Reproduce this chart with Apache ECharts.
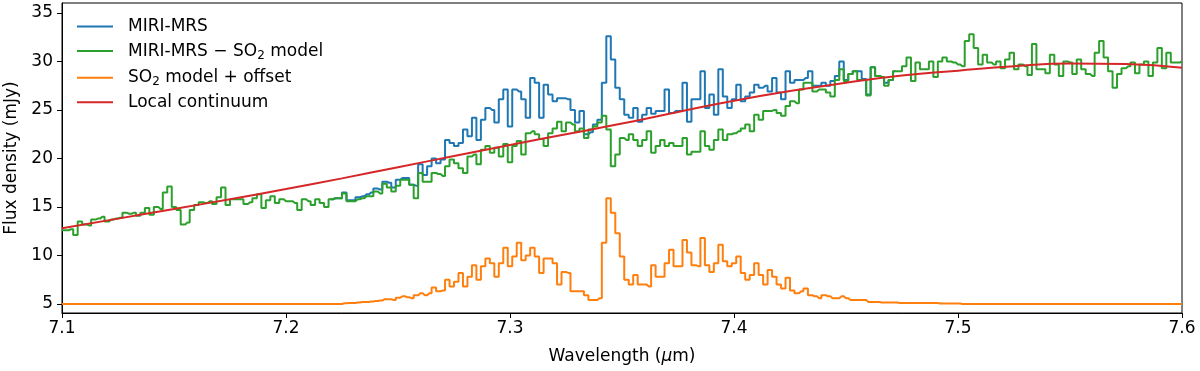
<!DOCTYPE html>
<html>
<head>
<meta charset="utf-8" />
<title>MIRI-MRS SO2 band</title>
<script src="https://cdn.jsdelivr.net/npm/echarts@6.0.0/dist/echarts.min.js"></script>
<style>
  html, body { margin: 0; padding: 0; background: #fff; }
  #main { width: 1200px; height: 371px; }
</style>
</head>
<body>
<div id="main"></div>
<script>
// spectra are sampled on a regular grid starting at 7.1 um
var waveStart = 7.1;
var waveStep = 0.002;

// MIRI-MRS - SO2 model (mJy)
var green = [
  12.6, 12.6, 12.7, 12.1, 13.5, 13.2, 13.1, 13.7, 13.8, 14.0,
  13.5, 13.7, 13.8, 13.9, 14.4, 14.3, 14.4, 14.1, 14.4, 14.9,
  14.2, 15.0, 14.8, 16.5, 17.1, 15.0, 14.7, 13.2, 13.4, 14.7,
  15.2, 15.5, 15.4, 15.6, 15.3, 16.0, 17.0, 15.2, 15.8,
  15.8, 15.8, 15.3, 15.5, 15.9, 16.3, 14.9, 15.7, 16.1, 15.4,
  15.8, 15.6, 15.6, 15.4, 14.7, 15.8, 15.6, 15.2, 15.8, 15.4,
  15.0, 15.8, 15.9, 15.9, 16.4, 15.6, 15.6, 15.8, 15.9, 16.1,
  16.1, 16.6, 16.4, 17.4, 17.0, 16.6, 17.2, 17.8,
  17.8, 17.3, 15.9, 18.5, 17.6, 17.6, 18.5, 18.4, 18.2, 19.2,
  19.9, 19.5, 19.0, 18.5, 20.2, 20.4, 19.4, 20.9, 21.3, 20.6,
  21.1, 20.2, 21.5, 19.6, 21.3, 21.8, 20.4, 22.6, 22.8, 22.5,
  22.0, 21.3, 22.6, 23.1, 23.8, 22.8, 23.7, 23.5,
  22.8, 23.1, 22.1, 23.0, 23.3, 23.7, 24.4, 23.0, 19.2, 20.4,
  22.1, 21.9, 22.5, 21.9, 21.3, 21.9, 22.8, 20.6, 21.3, 21.9,
  21.3, 21.6, 21.3, 21.3, 22.1, 20.4, 20.7, 20.7, 22.8, 21.3,
  20.9, 21.9, 23.0, 21.9, 22.5, 22.6, 22.8, 23.1,
  23.5, 22.8, 24.5, 24.0, 24.9, 24.9, 25.0, 24.7, 24.4, 25.4,
  25.9, 25.7, 27.1, 27.8, 27.8, 26.9, 27.1, 27.1, 26.8, 26.4,
  28.1, 29.2, 28.0, 28.7, 29.0, 28.1, 28.1, 26.5, 29.4, 28.5,
  28.4, 27.5, 28.1, 29.0, 29.0, 29.5, 30.4, 28.0,
  29.9, 29.2, 29.2, 30.0, 28.4, 30.0, 30.4, 30.0, 29.9, 29.7,
  29.5, 32.1, 32.8, 31.4, 29.7, 30.7, 29.9, 29.7, 30.0, 29.3,
  30.2, 30.9, 29.2, 29.7,
  29.5, 28.6, 31.8, 29.2, 29.2, 28.8, 30.7, 29.7, 28.5, 30.0,
  29.9, 28.7, 30.2, 29.2, 28.7, 28.5, 30.9, 32.1, 30.4, 29.0,
  27.3, 28.7, 29.3, 29.5, 29.9, 28.8, 29.7, 30.0, 28.5, 29.9,
  31.4, 29.3, 30.9, 29.9, 29.9, 30.0
];

// MIRI-MRS (mJy), only where it leaves the corrected spectrum
var blueStart = 60;
var blue = [
  15.8, 15.9, 15.9, 16.5, 15.7, 15.7, 16.0, 16.1, 16.3, 16.5,
  16.9, 16.8, 17.6, 17.5, 17.0, 17.8, 18.0,
  18.0, 17.3, 17.2, 19.4, 18.3, 19.2, 20.0, 19.5, 19.9, 21.9,
  21.6, 21.3, 21.6, 23.0, 22.3, 24.2, 21.9, 24.0, 25.2, 25.0,
  23.7, 26.1, 27.1, 23.3, 27.1, 26.9, 26.1, 24.2, 28.3, 27.8,
  24.2, 27.6, 26.6, 25.9, 26.2, 26.2, 26.1, 25.0,
  23.7, 24.9, 22.5, 22.7, 23.5, 24.0, 27.8, 32.6, 30.2, 27.3,
  26.1, 24.5, 24.2, 25.2, 23.8, 24.5, 25.2, 24.6, 24.9, 24.9,
  27.1, 24.7, 24.9, 24.9, 27.8, 23.8, 26.1, 26.1, 29.0, 25.2,
  26.6, 24.5, 29.2, 26.4, 25.2, 26.1, 27.6, 25.9,
  26.4, 26.8, 27.6, 27.3, 27.5, 26.9, 28.3, 26.8, 26.1, 29.0,
  27.8, 28.1, 28.1, 28.3, 29.0, 27.5, 27.5, 27.8, 27.5, 28.0,
  28.5, 30.0, 28.1, 28.7, 29.0, 29.0, 28.2, 26.6, 29.4, 28.5,
  28.4, 27.8, 28.1, 29.0
];

// SO2 model + offset (mJy)
var orange = [
  5.0, 5.0, 5.0, 5.0, 5.0, 5.0, 5.0, 5.0, 5.0, 5.0,
  5.0, 5.0, 5.0, 5.0, 5.0, 5.0, 5.0, 5.0, 5.0, 5.0,
  5.0, 5.0, 5.0, 5.0, 5.0, 5.0, 5.0, 5.0, 5.0, 5.0,
  5.0, 5.0, 5.0, 5.0, 5.0, 5.0, 5.0, 5.0, 5.0, 5.0,
  5.0, 5.0, 5.0, 5.0, 5.0, 5.0, 5.0, 5.0, 5.0, 5.0,
  5.0, 5.0, 5.0, 5.0, 5.0, 5.0, 5.0, 5.0, 5.0, 5.0,
  5.0, 5.0, 5.0,
  5.07, 5.1, 5.1, 5.15, 5.2, 5.2, 5.25, 5.3, 5.35, 5.5, 5.5, 5.4, 5.65, 5.8,
  5.7, 5.6, 5.9, 6.1, 5.9, 6.1, 6.7, 6.3, 6.4, 7.5,
  6.8, 7.3, 8.2, 6.8, 7.8, 9.0, 7.5, 8.9, 9.7, 9.2,
  7.8, 9.2, 10.8, 8.9, 9.9, 11.3, 9.5, 10.0, 10.8, 9.9,
  8.2, 9.7, 9.7, 9.2, 7.0, 8.3, 8.2, 6.3,
  6.3, 6.3, 5.9, 5.4, 5.4, 5.6, 11.3, 15.9, 14.4, 12.3,
  9.9, 7.5, 7.0, 8.0, 7.0, 7.0, 6.8, 9.0, 7.8, 7.8,
  9.2, 10.6, 8.9, 8.9, 11.6, 10.3, 9.0, 8.9, 11.8, 9.0,
  8.3, 9.2, 11.1, 9.4, 8.9, 9.2, 9.9, 8.2,
  7.5, 8.0, 9.2, 8.0, 7.0, 8.5, 7.8, 7.0, 6.6, 7.7,
  6.4, 6.1, 6.3, 6.6, 5.9, 5.8, 5.6, 5.9, 5.8, 5.6,
  5.6, 5.8, 5.6, 5.4, 5.4, 5.4, 5.4, 5.2, 5.2, 5.2,
  5.15, 5.15, 5.15, 5.15, 5.1, 5.1, 5.1, 5.1,
  5.1, 5.1, 5.1, 5.1, 5.1, 5.05, 5.05, 5.05, 5.05, 5.05,
  5.0, 5.0, 5.0, 5.0, 5.0, 5.0, 5.0, 5.0, 5.0, 5.0,
  5.0, 5.0, 5.0, 5.0, 5.0, 5.0, 5.0, 5.0, 5.0, 5.0,
  5.0, 5.0, 5.0, 5.0, 5.0, 5.0, 5.0, 5.0, 5.0, 5.0,
  5.0, 5.0, 5.0, 5.0, 5.0, 5.0, 5.0, 5.0, 5.0, 5.0,
  5.0, 5.0, 5.0, 5.0, 5.0, 5.0, 5.0, 5.0, 5.0, 5.0
];

// local continuum
var contWave = [7.100, 7.125, 7.150, 7.175, 7.200, 7.225, 7.250, 7.275, 7.300, 7.325, 7.350,
                7.375, 7.400, 7.425, 7.450, 7.475, 7.500, 7.525, 7.550, 7.575, 7.600];
var contFlux = [12.8, 13.8, 14.8, 15.8, 16.85, 17.95, 19.1, 20.25, 21.4, 22.5, 23.6,
                24.8, 25.95, 26.95, 27.8, 28.55, 29.05, 29.5, 29.8, 29.75, 29.35];

var xTicks = [7.1, 7.2, 7.3, 7.4, 7.5, 7.6];
var yTicks = [5, 10, 15, 20, 25, 30, 35];

var names = ['MIRI-MRS', 'MIRI-MRS - SO2 model', 'SO2 model + offset', 'Local continuum'];
var colors = ['#1f77b4', '#2ca02c', '#ff7f0e', '#d62728'];
var font = 'DejaVu Sans';

function pairs(vals, offset) {
  var out = [];
  for (var i = 0; i < vals.length; i++) {
    out.push([+(waveStart + (i + offset) * waveStep).toFixed(3), vals[i]]);
  }
  return out;
}

var contData = [];
for (var i = 0; i < contWave.length; i++) contData.push([contWave[i], contFlux[i]]);

function stepSeries(idx, data) {
  return {
    name: names[idx], type: 'line', step: 'middle', data: data,
    symbol: 'none', lineStyle: { color: colors[idx], width: 2 }, itemStyle: { color: colors[idx] }
  };
}

var chart = echarts.init(document.getElementById('main'));
chart.setOption({
  animation: false,
  grid: {
    left: 62, right: 18, top: 3, bottom: 58, outerBoundsMode: 'none',
    show: true, borderColor: '#000', borderWidth: 1
  },
  legend: {
    data: names.map(function (n) { return { name: n, icon: 'rect' }; }),
    orient: 'vertical',
    left: 77, top: 18, padding: 0,
    itemWidth: 36, itemHeight: 2, itemGap: 5.6,
    formatter: function (n) {
      if (n === names[1]) return '{t|MIRI-MRS \u2212 SO}{s|2}{t| model}';
      if (n === names[2]) return '{t|SO}{s|2}{t| model + offset}';
      return '{t|' + n + '}';
    },
    textStyle: {
      padding: [0, 0, 0, 10],
      rich: {
        t: { fontFamily: font, fontSize: 17, color: '#000', lineHeight: 20 },
        s: { fontFamily: font, fontSize: 12, color: '#000', lineHeight: 20, padding: [9, 0, 0, 0] }
      }
    }
  },
  xAxis: {
    type: 'value', min: 7.1, max: 7.6,
    name: '{a|Wavelength (}{i|\u03bc}{a|m)}',
    nameLocation: 'middle', nameGap: 35,
    nameTextStyle: {
      rich: {
        a: { fontFamily: font, fontSize: 17, color: '#000' },
        i: { fontFamily: font, fontSize: 17, color: '#000', fontStyle: 'italic' }
      }
    },
    axisLine: { lineStyle: { color: '#000', width: 1 } },
    axisTick: { length: 5, lineStyle: { color: '#000' }, customValues: xTicks },
    axisLabel: {
      customValues: xTicks, margin: 7,
      fontFamily: font, fontSize: 17, color: '#000',
      formatter: function (v) { return v.toFixed(1); }
    },
    splitLine: { show: false }
  },
  yAxis: {
    type: 'value', min: 4.07, max: 36.03,
    name: 'Flux density (mJy)',
    nameLocation: 'middle', nameGap: 40,
    nameTextStyle: { fontFamily: font, fontSize: 17, color: '#000' },
    axisLine: { show: true, lineStyle: { color: '#000', width: 1 } },
    axisTick: { show: true, length: 5, lineStyle: { color: '#000' }, customValues: yTicks },
    axisLabel: { customValues: yTicks, margin: 9, fontFamily: font, fontSize: 17, color: '#000' },
    splitLine: { show: false }
  },
  series: [
    stepSeries(0, pairs(blue, blueStart)),
    stepSeries(1, pairs(green, 0)),
    stepSeries(2, pairs(orange, 0)),
    {
      name: names[3], type: 'line', data: contData, smooth: true,
      symbol: 'none', lineStyle: { color: colors[3], width: 2 }, itemStyle: { color: colors[3] }
    }
  ]
});
</script>
</body>
</html>
